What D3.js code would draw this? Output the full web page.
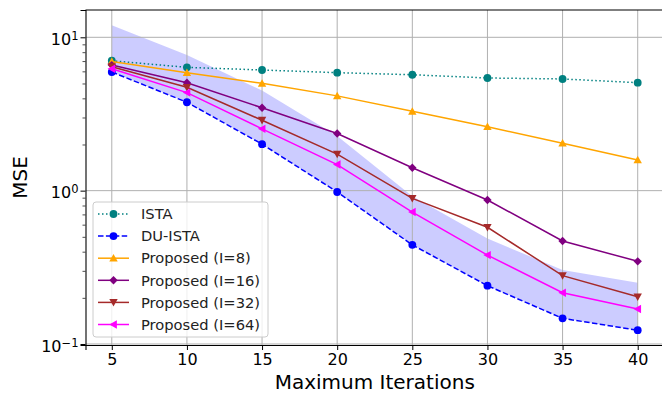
<!DOCTYPE html>
<html>
<head>
<meta charset="utf-8">
<script src="https://cdn.jsdelivr.net/npm/d3@7"></script>
<style>
  body { margin: 0; background: #fff; }
  svg { display: block; font-family: "DejaVu Sans", sans-serif; }
</style>
</head>
<body>
<div id="chart"></div>
<script>
const iterations = [5, 10, 15, 20, 25, 30, 35, 40];
const ista = [7.03, 6.37, 6.12, 5.88, 5.70, 5.43, 5.35, 5.06];
const duIsta = [5.94, 3.77, 2.01, 0.98, 0.443, 0.240, 0.147, 0.123];
const proposed8 = [6.95, 5.88, 5.01, 4.15, 3.29, 2.61, 2.04, 1.585];
const proposed16 = [6.59, 5.06, 3.47, 2.36, 1.41, 0.869, 0.470, 0.346];
const proposed32 = [6.43, 4.72, 2.88, 1.73, 0.89, 0.577, 0.279, 0.203];
const proposed64 = [6.24, 4.36, 2.53, 1.48, 0.725, 0.380, 0.216, 0.169];
const bandUpper = [12.0, 7.67, 4.5, 2.27, 0.92, 0.487, 0.304, 0.251];
const bandLower = [5.94, 3.77, 2.01, 0.98, 0.443, 0.240, 0.147, 0.123];
const xTicks = [5, 10, 15, 20, 25, 30, 35, 40];
const yTicks = [0.1, 1, 10];
const yTickExp = ["\u22121", "0", "1"];

const series = [
  { name: "ISTA", values: ista, color: "#008080", dash: "1.5,2.5", marker: "circle" },
  { name: "DU-ISTA", values: duIsta, color: "#0000ff", dash: "5.5,2.4", marker: "circle" },
  { name: "Proposed (I=8)", values: proposed8, color: "#ffa500", dash: null, marker: "up" },
  { name: "Proposed (I=16)", values: proposed16, color: "#800080", dash: null, marker: "diamond" },
  { name: "Proposed (I=32)", values: proposed32, color: "#a52a2a", dash: null, marker: "down" },
  { name: "Proposed (I=64)", values: proposed64, color: "#ff00ff", dash: null, marker: "left" },
];

const width = 662, height = 394;
const margin = { top: 10, left: 85.5 };
const plotRight = 664, plotBottom = 345;

const svg = d3.select("#chart").append("svg")
  .attr("width", width).attr("height", height);

const x = d3.scaleLinear().domain([3.25, 41.75]).range([margin.left, plotRight]);
const y = d3.scaleLog().domain([0.0985, 15.07]).range([plotBottom, margin.top]);

// marker shapes, in local coords
function markerPath(type) {
  const s = 4.2;
  if (type === "up") return `M0,${-s}L${s},${s * 0.8}L${-s},${s * 0.8}Z`;
  if (type === "down") return `M0,${s}L${s},${-s * 0.8}L${-s},${-s * 0.8}Z`;
  if (type === "left") return `M${-s},0L${s * 0.8},${-s}L${s * 0.8},${s}Z`;
  if (type === "diamond") return `M0,${-s}L${s},0L0,${s}L${-s},0Z`;
  return d3.symbol(d3.symbolCircle, 48)();
}

const clip = svg.append("clipPath").attr("id", "plot-clip")
  .append("rect").attr("x", margin.left).attr("y", margin.top)
  .attr("width", plotRight - margin.left).attr("height", plotBottom - margin.top);

const plot = svg.append("g").attr("clip-path", "url(#plot-clip)");

// shaded band
const area = d3.area()
  .x((d, i) => x(iterations[i]))
  .y0((d, i) => y(bandLower[i]))
  .y1((d) => y(d));
plot.append("path").datum(bandUpper)
  .attr("fill", "#0000ff").attr("fill-opacity", 0.2)
  .attr("d", area);

// grid
plot.selectAll(".gx").data(xTicks).enter().append("line")
  .attr("x1", (d) => x(d)).attr("x2", (d) => x(d))
  .attr("y1", margin.top).attr("y2", plotBottom)
  .attr("stroke", "#b0b0b0").attr("stroke-width", 1);
plot.selectAll(".gy").data(yTicks).enter().append("line")
  .attr("x1", margin.left).attr("x2", plotRight)
  .attr("y1", (d) => y(d)).attr("y2", (d) => y(d))
  .attr("stroke", "#b0b0b0").attr("stroke-width", 1);

// lines
const line = d3.line().x((d, i) => x(iterations[i])).y((d) => y(d));
series.forEach((s) => {
  plot.append("path").datum(s.values)
    .attr("fill", "none").attr("stroke", s.color).attr("stroke-width", 1.5)
    .attr("stroke-dasharray", s.dash).attr("d", line);
  plot.selectAll(null).data(s.values).enter().append("path")
    .attr("transform", (d, i) => `translate(${x(iterations[i])},${y(d)})`)
    .attr("d", markerPath(s.marker)).attr("fill", s.color);
});

// axes
const xAxis = svg.append("g").attr("transform", `translate(0,${plotBottom})`)
  .call(d3.axisBottom(x).tickValues(xTicks).tickSize(5).tickPadding(4).tickFormat(d3.format("d")));
xAxis.select(".domain").attr("stroke-width", 1.1);
xAxis.selectAll("text").attr("font-size", 16).attr("fill", "#000").attr("font-family", "DejaVu Sans");

const minor = [];
[0.1, 1, 10].forEach((dec) => {
  for (let k = 2; k <= 9; k++) {
    const v = dec * k;
    if (v >= y.domain()[0] && v <= y.domain()[1]) minor.push(v);
  }
});
const yMinor = svg.append("g").attr("transform", `translate(${margin.left},0)`)
  .call(d3.axisLeft(y).tickValues(minor).tickSize(3).tickFormat(""));
yMinor.select(".domain").remove();
yMinor.selectAll("line").attr("stroke-width", 0.7);

const yAxis = svg.append("g").attr("transform", `translate(${margin.left},0)`)
  .call(d3.axisLeft(y).tickValues(yTicks).tickSize(5).tickPadding(5).tickFormat(""));
yAxis.select(".domain").attr("stroke-width", 1.1);
yAxis.selectAll(".tick").each(function (d, i) {
  const t = d3.select(this).append("text")
    .attr("x", -7).attr("dy", "0.45em").attr("text-anchor", "end")
    .attr("fill", "#000").attr("font-size", 16).attr("font-family", "DejaVu Sans");
  t.append("tspan").text("10");
  t.append("tspan").attr("dy", "-0.45em").attr("font-size", 11.5).text(yTickExp[i]);
});

// top spine
svg.append("line").attr("x1", margin.left).attr("x2", plotRight)
  .attr("y1", margin.top).attr("y2", margin.top)
  .attr("stroke", "#000").attr("stroke-width", 1.1);

// labels
svg.append("text").attr("x", (margin.left + plotRight) / 2).attr("y", 389)
  .attr("text-anchor", "middle").attr("font-size", 20).text("Maximum Iterations");
svg.append("text").attr("transform", `translate(27,${(margin.top + plotBottom) / 2}) rotate(-90)`)
  .attr("text-anchor", "middle").attr("font-size", 20).text("MSE");

// legend
const legend = svg.append("g");
legend.append("rect").attr("x", 93).attr("y", 202).attr("width", 175).attr("height", 135)
  .attr("rx", 3).attr("fill", "#fff").attr("fill-opacity", 0.8)
  .attr("stroke", "#cccccc").attr("stroke-width", 1);
series.forEach((s, i) => {
  const g = legend.append("g").attr("transform", `translate(0,${214 + i * 22.1})`);
  g.append("line").attr("x1", 98).attr("x2", 129)
    .attr("stroke", s.color).attr("stroke-width", 1.5).attr("stroke-dasharray", s.dash);
  g.append("path").attr("transform", "translate(113.5,0)")
    .attr("d", markerPath(s.marker)).attr("fill", s.color);
  g.append("text").attr("x", 141).attr("dy", "0.36em")
    .attr("font-size", 14.7).attr("fill", "#222").text(s.name);
});
</script>
</body>
</html>
